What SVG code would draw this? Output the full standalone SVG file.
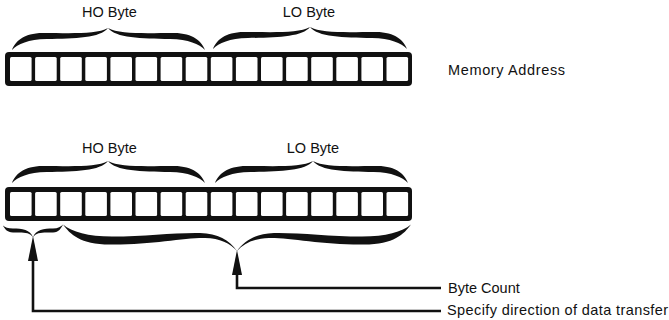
<svg xmlns="http://www.w3.org/2000/svg" xmlns:xlink="http://www.w3.org/1999/xlink" width="669" height="320" viewBox="0 0 669 320">
<style>
text{font-family:"Liberation Sans",Arial,Helvetica,sans-serif;font-size:14.5px;fill:#111}
.ink{fill:#111}
.cell{fill:#fff}
.wire{fill:none;stroke:#111;stroke-width:2.6}
</style>
<defs>
<g id="reg">
<rect class="ink" x="5" y="0" width="407" height="34" rx="4"/>
<rect class="cell" x="10" y="5" width="21.6" height="24" rx="1.5"/>
<rect class="cell" x="35.1" y="5" width="21.6" height="24" rx="1.5"/>
<rect class="cell" x="60.2" y="5" width="21.6" height="24" rx="1.5"/>
<rect class="cell" x="85.3" y="5" width="21.6" height="24" rx="1.5"/>
<rect class="cell" x="110.4" y="5" width="21.6" height="24" rx="1.5"/>
<rect class="cell" x="135.5" y="5" width="21.6" height="24" rx="1.5"/>
<rect class="cell" x="160.6" y="5" width="21.6" height="24" rx="1.5"/>
<rect class="cell" x="185.7" y="5" width="21.6" height="24" rx="1.5"/>
<rect class="cell" x="210.8" y="5" width="21.6" height="24" rx="1.5"/>
<rect class="cell" x="235.9" y="5" width="21.6" height="24" rx="1.5"/>
<rect class="cell" x="261" y="5" width="21.6" height="24" rx="1.5"/>
<rect class="cell" x="286.1" y="5" width="21.6" height="24" rx="1.5"/>
<rect class="cell" x="311.2" y="5" width="21.6" height="24" rx="1.5"/>
<rect class="cell" x="336.3" y="5" width="21.6" height="24" rx="1.5"/>
<rect class="cell" x="361.4" y="5" width="21.6" height="24" rx="1.5"/>
<rect class="cell" x="386.5" y="5" width="21.6" height="24" rx="1.5"/>
</g>
<path id="half" class="ink" d="M0,0 C3,-8 12,-17 32,-17 C62,-17 88,-15.5 100,-22 C92,-12 66,-11.5 36,-11 C17,-10.5 6,-6 0,0 Z"/>
<marker id="arrow" viewBox="0 0 25 10" refX="15" refY="5" markerWidth="25" markerHeight="10" markerUnits="userSpaceOnUse" orient="auto">
<path class="ink" d="M0,0 L25,5 L0,10 Z"/>
</marker>
</defs>

<g id="memory-address-register">
<use xlink:href="#reg" href="#reg" y="52"/>
<text x="448" y="75" textLength="117" lengthAdjust="spacing">Memory Address</text>
</g>
<g id="memory-address-bytes">
<use xlink:href="#half" href="#half" transform="translate(12,50) scale(0.96,1)"/>
<use xlink:href="#half" href="#half" transform="translate(205,50) scale(-0.97,1)"/>
<use xlink:href="#half" href="#half" transform="translate(213,49) scale(0.97,1)"/>
<use xlink:href="#half" href="#half" transform="translate(407,49) scale(-0.97,1)"/>
<text x="109.5" y="17" text-anchor="middle">HO Byte</text>
<text x="309" y="17" text-anchor="middle">LO Byte</text>
</g>

<g id="byte-count-register">
<use xlink:href="#reg" href="#reg" y="187"/>
</g>
<g id="byte-count-bytes">
<use xlink:href="#half" href="#half" transform="translate(12,183) scale(0.96,1)"/>
<use xlink:href="#half" href="#half" transform="translate(205,183) scale(-0.97,1)"/>
<use xlink:href="#half" href="#half" transform="translate(215,183) scale(0.98,1)"/>
<use xlink:href="#half" href="#half" transform="translate(408,183) scale(-0.95,1)"/>
<text x="109.5" y="153" text-anchor="middle">HO Byte</text>
<text x="313" y="153" text-anchor="middle">LO Byte</text>
</g>

<g id="direction-field">
<path class="ink" d="M3,225.5 C4.5,228.5 7,232.5 13,232.5 C22,232.5 29.5,231.5 33,237.5 C30.5,229.5 22,228.5 13,228.5 C8,228.5 5,227.5 3,225.5 Z"/>
<path class="ink" d="M63,224.5 C61.5,227.5 59,232.5 53,232.5 C44,232.5 36.5,231.5 33,237.5 C35.5,229.5 44,228.5 53,228.5 C58,228.5 61,226.5 63,224.5 Z"/>
</g>
<g id="count-field">
<path class="ink" d="M63,224.5 C70,234 80,244.5 110,244.5 C150,245 185,237.5 205,238 C220,238.5 230,243 237,251 C229,240 218,233.5 200,233 C175,232.5 145,236.5 112,236.5 C88,236.5 72,232 63,224.5 Z"/>
<path class="ink" d="M411,224.5 C404,234 394,244.5 364,244.5 C324,245 289,237.5 269,238 C254,238.5 244,243 237,251 C245,240 256,233.5 274,233 C299,232.5 329,236.5 362,236.5 C386,236.5 402,232 411,224.5 Z"/>
</g>

<g id="connectors">
<path class="wire" d="M441,288 H237 V260" marker-end="url(#arrow)"/>
<path class="wire" d="M441,311 H33 V246" marker-end="url(#arrow)"/>
</g>

<g id="labels">
<text x="448" y="293">Byte Count</text>
<text x="447" y="315" textLength="221" lengthAdjust="spacing">Specify direction of data transfer</text>
</g>
</svg>
